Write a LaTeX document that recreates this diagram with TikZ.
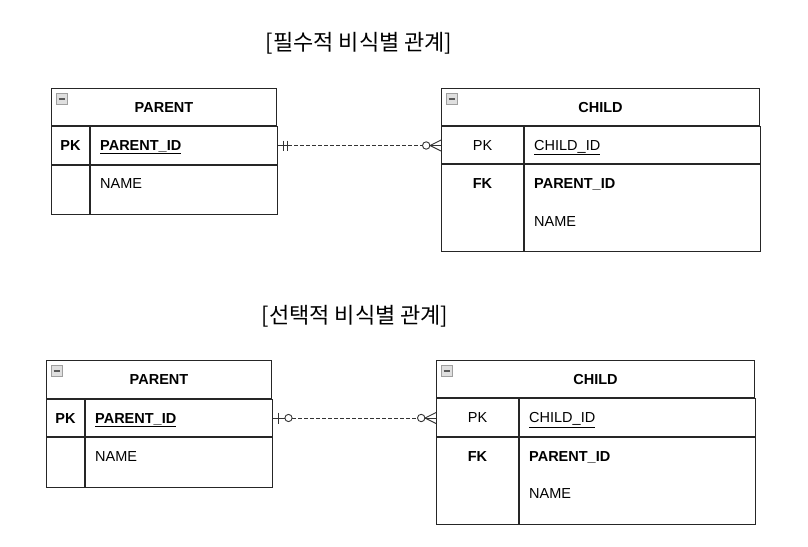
\documentclass[tikz,border=0pt]{standalone}
\usepackage{fontspec}
\setmainfont{Liberation Sans}
\newfontfamily\krfont{Noto Sans CJK KR}
\usetikzlibrary{positioning}
\newcommand{\tabfont}{\fontsize{14.5}{17}\selectfont}

\begin{document}
\begin{tikzpicture}[x=1pt,y=-1pt]

\tikzstyle{cell} = [draw=black!85, line width=1pt, anchor=north west,
inner sep=0pt]
\tikzstyle{headtext} = [font=\tabfont\bfseries, anchor=base, inner sep=0pt]
\tikzstyle{keytext} = [font=\tabfont, anchor=base, inner sep=0pt]
\tikzstyle{fldtext} = [font=\tabfont, anchor=base west, inner sep=0pt]
\tikzstyle{titletext} = [font=\krfont\fontsize{22}{25}\selectfont]
\tikzstyle{minusbox} = [draw=gray!75, fill=gray!25, minimum size=11pt,
inner sep=0pt, line width=0.7pt]
\tikzstyle{markline} = [draw=black!80, line width=0.9pt]
\tikzstyle{dashline} = [markline, dash pattern=on 3.5pt off 2.5pt]

\useasboundingbox (0,0) rectangle (808,546);

% [필수적 비식별 관계]
\node[titletext] (title1) at (359,43) {[필수적 비식별 관계]};

\node[cell, minimum width=225pt, minimum height=37pt] (p1head) at (51,88) {};
\node[cell, minimum width=38pt, minimum height=38pt] (p1pkkey) at (p1head.south west) {};
\node[cell, minimum width=187pt, minimum height=38pt] (p1pk) at (p1pkkey.north east) {};
\node[cell, minimum width=38pt, minimum height=49pt] (p1key) at (p1pkkey.south west) {};
\node[cell, minimum width=187pt, minimum height=49pt] (p1fld) at (p1key.north east) {};

\node[minusbox] (p1icon) at ([xshift=10.5pt,yshift=-11pt]p1head.north west) {};
\draw[black!65, line width=1.4pt] ([xshift=-3pt]p1icon.center) -- ([xshift=3pt]p1icon.center);

\node[headtext] at ([yshift=-5pt]p1head.center) {PARENT};
\node[headtext] at ([yshift=-5pt]p1pkkey.center) {PK};
\node[fldtext, font=\tabfont\bfseries] at ([xshift=10pt,yshift=-5pt]p1pk.west) {\underline{PARENT\_ID}};
\node[fldtext] at ([xshift=10pt,yshift=-23pt]p1fld.north west) {NAME};

\node[cell, minimum width=318pt, minimum height=37pt] (c1head) at (441,88) {};
\node[cell, minimum width=82pt, minimum height=37pt] (c1pkkey) at (c1head.south west) {};
\node[cell, minimum width=236pt, minimum height=37pt] (c1pk) at (c1pkkey.north east) {};
\node[cell, minimum width=82pt, minimum height=87pt] (c1key) at (c1pkkey.south west) {};
\node[cell, minimum width=236pt, minimum height=87pt] (c1fld) at (c1key.north east) {};

\node[minusbox] (c1icon) at ([xshift=10.5pt,yshift=-11pt]c1head.north west) {};
\draw[black!65, line width=1.4pt] ([xshift=-3pt]c1icon.center) -- ([xshift=3pt]c1icon.center);

\node[headtext] at ([yshift=-5pt]c1head.center) {CHILD};
\node[keytext] at ([yshift=-5pt]c1pkkey.center) {PK};
\node[fldtext] at ([xshift=10pt,yshift=-5pt]c1pk.west) {\underline{CHILD\_ID}};
\node[headtext] at ([yshift=-24pt]c1key.north) {FK};
\node[fldtext, font=\tabfont\bfseries] at ([xshift=10pt,yshift=-24pt]c1fld.north west) {PARENT\_ID};
\node[fldtext] at ([xshift=10pt,yshift=-62pt]c1fld.north west) {NAME};

\coordinate (r1a) at (p1pk.east);
\coordinate (r1b) at (p1pk.east -| c1pkkey.west);
\draw[markline] (r1a) -- ([xshift=10pt]r1a);
\draw[dashline] ([xshift=10pt]r1a) -- ([xshift=-18.5pt]r1b);
\draw[markline] ([xshift=5pt,yshift=5pt]r1a) -- ([xshift=5pt,yshift=-5pt]r1a);
\draw[markline] ([xshift=9pt,yshift=5pt]r1a) -- ([xshift=9pt,yshift=-5pt]r1a);
\draw[markline] ([xshift=-14.8pt]r1b) circle (3.7pt);
\draw[markline] ([xshift=-11pt]r1b) -- (r1b);
\draw[markline] ([yshift=5.5pt]r1b) -- ([xshift=-11pt]r1b) -- ([yshift=-5.5pt]r1b);

% [선택적 비식별 관계]
\node[titletext] (title2) at (355,316) {[선택적 비식별 관계]};

\node[cell, minimum width=225pt, minimum height=38pt] (p2head) at (46,360) {};
\node[cell, minimum width=38pt, minimum height=37pt] (p2pkkey) at (p2head.south west) {};
\node[cell, minimum width=187pt, minimum height=37pt] (p2pk) at (p2pkkey.north east) {};
\node[cell, minimum width=38pt, minimum height=50pt] (p2key) at (p2pkkey.south west) {};
\node[cell, minimum width=187pt, minimum height=50pt] (p2fld) at (p2key.north east) {};

\node[minusbox] (p2icon) at ([xshift=10.5pt,yshift=-11pt]p2head.north west) {};
\draw[black!65, line width=1.4pt] ([xshift=-3pt]p2icon.center) -- ([xshift=3pt]p2icon.center);

\node[headtext] at ([yshift=-5pt]p2head.center) {PARENT};
\node[headtext] at ([yshift=-5pt]p2pkkey.center) {PK};
\node[fldtext, font=\tabfont\bfseries] at ([xshift=10pt,yshift=-5pt]p2pk.west) {\underline{PARENT\_ID}};
\node[fldtext] at ([xshift=10pt,yshift=-24pt]p2fld.north west) {NAME};

\node[cell, minimum width=318pt, minimum height=37pt] (c2head) at (436,360) {};
\node[cell, minimum width=82pt, minimum height=38pt] (c2pkkey) at (c2head.south west) {};
\node[cell, minimum width=236pt, minimum height=38pt] (c2pk) at (c2pkkey.north east) {};
\node[cell, minimum width=82pt, minimum height=87pt] (c2key) at (c2pkkey.south west) {};
\node[cell, minimum width=236pt, minimum height=87pt] (c2fld) at (c2key.north east) {};

\node[minusbox] (c2icon) at ([xshift=10.5pt,yshift=-11pt]c2head.north west) {};
\draw[black!65, line width=1.4pt] ([xshift=-3pt]c2icon.center) -- ([xshift=3pt]c2icon.center);

\node[headtext] at ([yshift=-5pt]c2head.center) {CHILD};
\node[keytext] at ([yshift=-5pt]c2pkkey.center) {PK};
\node[fldtext] at ([xshift=10pt,yshift=-5pt]c2pk.west) {\underline{CHILD\_ID}};
\node[headtext] at ([yshift=-24pt]c2key.north) {FK};
\node[fldtext, font=\tabfont\bfseries] at ([xshift=10pt,yshift=-24pt]c2fld.north west) {PARENT\_ID};
\node[fldtext] at ([xshift=10pt,yshift=-61pt]c2fld.north west) {NAME};

\coordinate (r2a) at (p2pk.east);
\coordinate (r2b) at (p2pk.east -| c2pkkey.west);
\draw[markline] (r2a) -- ([xshift=12pt]r2a);
\draw[markline] ([xshift=5pt,yshift=5.5pt]r2a) -- ([xshift=5pt,yshift=-5.5pt]r2a);
\draw[markline] ([xshift=15.5pt]r2a) circle (3.6pt);
\draw[dashline] ([xshift=19pt]r2a) -- ([xshift=-18.5pt]r2b);
\draw[markline] ([xshift=-14.8pt]r2b) circle (3.7pt);
\draw[markline] ([xshift=-11pt]r2b) -- (r2b);
\draw[markline] ([yshift=5.5pt]r2b) -- ([xshift=-11pt]r2b) -- ([yshift=-5.5pt]r2b);

\end{tikzpicture}
\end{document}
